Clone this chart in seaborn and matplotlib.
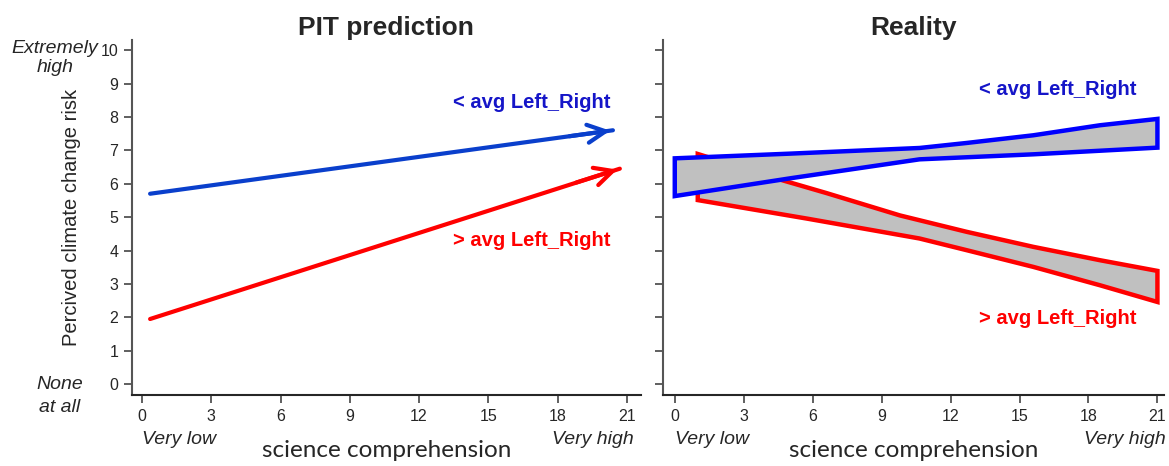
import matplotlib
matplotlib.use("Agg")
import matplotlib.pyplot as plt
import seaborn as sns

sns.set_style("ticks")
plt.rcParams['font.family'] = ['Liberation Sans', 'DejaVu Sans']

# PIT prediction: straight lines with arrows
pit_x = [0.35, 20.4]
pit_below_avg = [5.7, 7.6]    # < avg Left_Right (blue)
pit_above_avg_x = [0.35, 20.7]
pit_above_avg = [1.95, 6.45]  # > avg Left_Right (red)

# Reality: bands (upper and lower edges)
real_blue_upper_x = [0, 5.0, 10.65, 12.7, 15.6, 18.5, 21]
real_blue_upper = [6.76, 6.9, 7.07, 7.22, 7.45, 7.75, 7.94]
real_blue_lower_x = [0, 5.1, 10.65, 15.6, 21]
real_blue_lower = [5.63, 6.17, 6.73, 6.88, 7.08]
real_red_upper_x = [1, 4.7, 6.6, 9.8, 12.7, 15.6, 18.5, 21]
real_red_upper = [6.89, 6.1, 5.72, 5.05, 4.56, 4.11, 3.71, 3.39]
real_red_lower_x = [1, 5.8, 10.65, 12.7, 15.6, 18.5, 21]
real_red_lower = [5.51, 4.95, 4.36, 4.01, 3.51, 2.96, 2.46]

x_ticks = [0, 3, 6, 9, 12, 15, 18, 21]
y_ticks = list(range(0, 11))

fig = plt.figure(figsize=(11.69, 4.66), dpi=100)
ax1 = fig.add_axes([0.113, 0.152, 0.435, 0.762])
ax2 = fig.add_axes([0.567, 0.152, 0.429, 0.762])

head = '->,head_length=1.3,head_width=0.65'

# left panel
sns.lineplot(x=pit_x, y=pit_below_avg, ax=ax1, color='#0a3fcc', lw=3)
sns.lineplot(x=pit_above_avg_x, y=pit_above_avg, ax=ax1, color='#ff0000', lw=3)
ax1.annotate('', xy=(pit_x[1], pit_below_avg[1]),
             xytext=(pit_x[1] - 2.0, pit_below_avg[1] - 0.19),
             arrowprops=dict(arrowstyle=head, color='#0a3fcc', lw=3))
ax1.annotate('', xy=(pit_above_avg_x[1], pit_above_avg[1]),
             xytext=(pit_above_avg_x[1] - 2.0, pit_above_avg[1] - 0.44),
             arrowprops=dict(arrowstyle=head, color='#ff0000', lw=3))
ax1.text(20.3, 8.44, '< avg Left_Right', color='#1515c8', fontsize=14.5,
         fontweight='bold', ha='right', va='center')
ax1.text(20.3, 4.31, '> avg Left_Right', color='#ff0000', fontsize=14.5,
         fontweight='bold', ha='right', va='center')

# right panel
bx = real_blue_upper_x + real_blue_lower_x[::-1]
by = real_blue_upper + real_blue_lower[::-1]
rx = real_red_upper_x + real_red_lower_x[::-1]
ry = real_red_upper + real_red_lower[::-1]
ax2.fill(rx, ry, facecolor='#c0c0c0', edgecolor='#ff0000', lw=3.2, closed=True)
ax2.fill(bx, by, facecolor='#c0c0c0', edgecolor='#0000ff', lw=3.2, closed=True)
ax2.text(20.1, 8.83, '< avg Left_Right', color='#1515c8', fontsize=14.5,
         fontweight='bold', ha='right', va='center')
ax2.text(20.1, 1.98, '> avg Left_Right', color='#ff0000', fontsize=14.5,
         fontweight='bold', ha='right', va='center')

for ax, xl in [(ax1, (-0.43, 21.6)), (ax2, (-0.52, 21.3))]:
    ax.set_xlim(*xl)
    ax.set_ylim(-0.33, 10.3)
    ax.set_xticks(x_ticks)
    ax.set_yticks(y_ticks)
    ax.tick_params(axis='both', length=6, width=1.2, color='#444444',
                   labelsize=11.5, pad=4)
    sns.despine(ax=ax)
    ax.spines['left'].set_color('#555555')
    ax.spines['left'].set_linewidth(1.5)
    ax.spines['bottom'].set_linewidth(1.5)
    ax.set_xlabel('science comprehension', fontsize=17.5, family=['Lato', 'DejaVu Sans'])
    ax.xaxis.set_label_coords(0.5, -0.125)
    tr = ax.get_xaxis_transform()
    ax.text(0.0, -0.125, 'Very low', transform=tr, fontsize=14,
            style='italic', ha='left', va='center')
    ax.text(21.3 if ax is ax1 else 21.35, -0.125, 'Very high', transform=tr,
            fontsize=14, style='italic', ha='right', va='center')

ax2.set_yticklabels([])
ax1.set_title('PIT prediction', fontsize=19, fontweight='bold', pad=4)
ax2.set_title('Reality', fontsize=19, fontweight='bold', pad=4)
ax1.set_ylabel('Percived climate change risk', fontsize=14.5)
ax1.yaxis.set_label_coords(-0.1, 0.5)

fig.text(55 / 1169, 1 - 58 / 466, 'Extremely\nhigh', fontsize=14, style='italic',
         ha='center', va='center', linespacing=1.2)
fig.text(60 / 1169, 1 - 396 / 466, 'None\nat all', fontsize=14, style='italic',
         ha='center', va='center', linespacing=1.4)

fig.savefig('out.png', dpi=100)
